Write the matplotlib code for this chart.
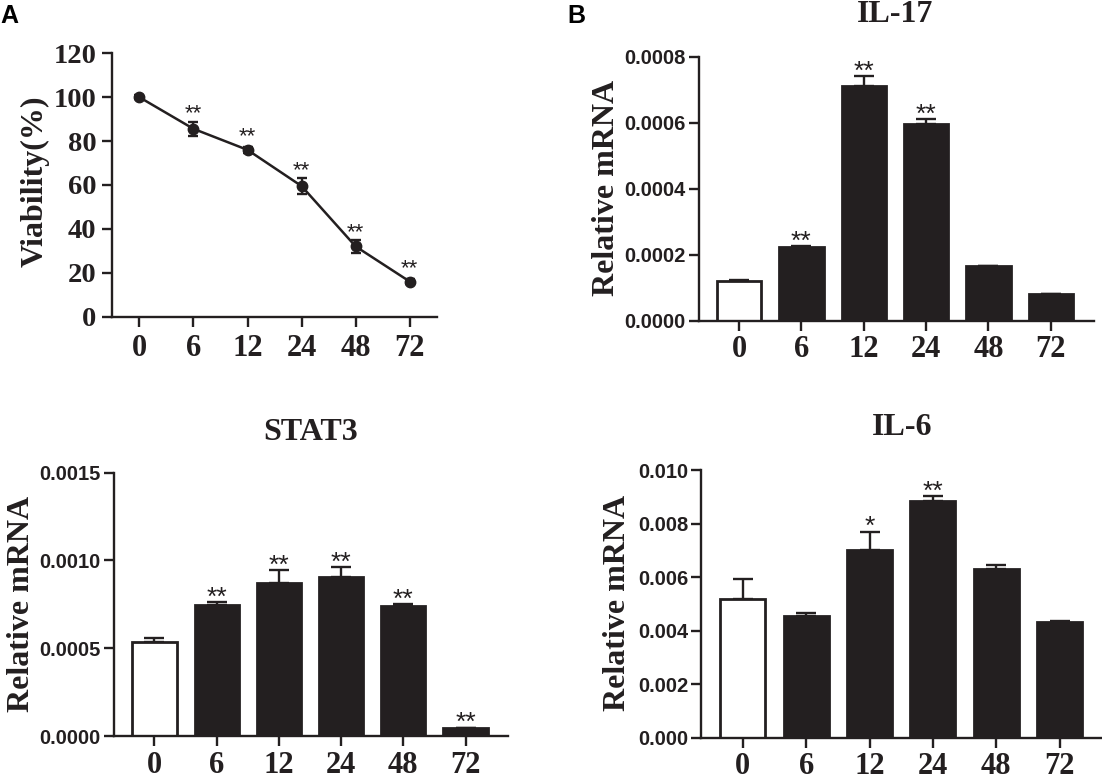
import matplotlib
matplotlib.use('Agg')
import matplotlib.pyplot as plt
from matplotlib.ticker import FormatStrFormatter

# ---------------- data ----------------
timepoints = ['0', '6', '12', '24', '48', '72']

viability = [100, 85.6, 76.0, 59.5, 32.0, 16.0]
viability_err = [0.8, 3.3, 1.2, 3.5, 3.0, 1.0]
viability_sig = ['', '**', '**', '**', '**', '**']

il17 = [0.000121, 0.000222, 0.000711, 0.000596, 0.000166, 0.000081]
il17_err = [0.000002, 0.000005, 0.000030, 0.000016, 0.000001, 0.0000005]
il17_sig = ['', '**', '**', '**', '', '']

stat3 = [0.000537, 0.000746, 0.000870, 0.000906, 0.000742, 0.000046]
stat3_err = [0.000021, 0.000015, 0.000076, 0.000055, 0.000012, 0.000002]
stat3_sig = ['', '**', '**', '**', '**', '**']

il6 = [0.00517, 0.00456, 0.00702, 0.00885, 0.00629, 0.00432]
il6_err = [0.00075, 0.00011, 0.00068, 0.00018, 0.00016, 0.00005]
il6_sig = ['', '', '*', '**', '', '']

# ---------------- style ----------------
INK = '#231f20'
SERIF = 'Liberation Serif'
SANS = 'Liberation Sans'
W, H = 1102, 778

fig = plt.figure(figsize=(W / 100, H / 100), dpi=100)


def px_axes(x0, x1, ytop, yzero):
    return fig.add_axes([x0 / W, 1 - yzero / H, (x1 - x0) / W, (yzero - ytop) / H])


def style(ax, xlim, ylim, yticks, yfmt, ysans, ysize, xpad, ypad):
    ax.set_xlim(*xlim)
    ax.set_ylim(*ylim)
    for s in ['top', 'right']:
        ax.spines[s].set_visible(False)
    for s in ['left', 'bottom']:
        ax.spines[s].set_linewidth(1.7)
        ax.spines[s].set_color(INK)
    ax.set_yticks(yticks)
    ax.yaxis.set_major_formatter(FormatStrFormatter(yfmt))
    ax.set_xticks(range(len(timepoints)))
    ax.set_xticklabels(timepoints)
    ax.tick_params(axis='both', width=1.7, length=7.5, color=INK)
    ax.tick_params(axis='x', pad=xpad)
    ax.tick_params(axis='y', pad=ypad)
    for lab in ax.get_xticklabels():
        lab.set_fontfamily(SERIF)
        lab.set_fontweight('bold')
        lab.set_fontsize(22)
        lab.set_color(INK)
    for lab in ax.get_yticklabels():
        lab.set_fontfamily(SANS if ysans else SERIF)
        lab.set_fontweight('bold')
        lab.set_fontsize(ysize)
        lab.set_color(INK)


def bar_panel(ax, vals, errs, sigs):
    x = list(range(len(vals)))
    colors = ['white'] + [INK] * (len(vals) - 1)
    ax.errorbar(x, vals, yerr=[[0] * len(vals), errs], fmt='none', ecolor=INK,
                elinewidth=1.7, capsize=7, capthick=1.7, zorder=1)
    ax.bar(x, vals, width=0.71, color=colors, edgecolor=INK, linewidth=2.0, zorder=2)
    for xi, v, e, s in zip(x, vals, errs, sigs):
        if s:
            ax.annotate(s, (xi, v + e), xytext=(0, -2), textcoords='offset points',
                        ha='center', va='baseline', fontsize=19, fontfamily=SANS,
                        color=INK)


# ---------------- Panel A ----------------
axA = px_axes(112.3, 436.8, 53.3, 316.7)
xs = list(range(len(viability)))
axA.errorbar(xs, viability, yerr=viability_err, fmt='-o', color=INK, lw=1.8,
             ms=7.5, capsize=3.5, elinewidth=1.7, capthick=1.7, clip_on=False)
style(axA, (-0.5, 5.5), (0, 120), [0, 20, 40, 60, 80, 100, 120], '%d', False, 20.5, 5, 4)
pts_per_unit = (316.7 - 53.3) * 0.72 / 120
for xi, v, e, s in zip(xs, viability, viability_err, viability_sig):
    if s:
        off = max(e * pts_per_unit, 3.8) + 1.5
        axA.annotate(s, (xi, v), xytext=(0, off), textcoords='offset points',
                     ha='center', va='baseline', fontsize=16, fontfamily=SANS, color=INK)
fig.text(35 / W, 1 - 181 / H, 'Viability(%)', rotation=90, ha='center', va='center',
         fontfamily=SERIF, fontweight='bold', fontsize=23, color=INK)

# ---------------- IL-17 ----------------
axB = px_axes(698.5, 1093.8, 56.7, 320.7)
bar_panel(axB, il17, il17_err, il17_sig)
style(axB, (-0.65, 5.69), (0, 0.0008), [0, 0.0002, 0.0004, 0.0006, 0.0008], '%.4f',
      True, 14.5, 3, 2)
fig.text(606 / W, 1 - 187.5 / H, 'Relative mRNA', rotation=90, ha='center', va='center',
         fontfamily=SERIF, fontweight='bold', fontsize=23, color=INK)
fig.text(895 / W, 1 - 22 / H, 'IL-17', ha='center', va='baseline',
         fontfamily=SERIF, fontweight='bold', fontsize=23, color=INK)

# ---------------- STAT3 ----------------
axC = px_axes(114, 507.9, 472.7, 736)
bar_panel(axC, stat3, stat3_err, stat3_sig)
style(axC, (-0.65, 5.68), (0, 0.0015), [0, 0.0005, 0.0010, 0.0015], '%.4f',
      True, 14.5, 3, 2)
fig.text(22 / W, 1 - 604 / H, 'Relative mRNA', rotation=90, ha='center', va='center',
         fontfamily=SERIF, fontweight='bold', fontsize=23, color=INK)
fig.text(310.4 / W, 1 - 440 / H, 'STAT3', ha='center', va='baseline',
         fontfamily=SERIF, fontweight='bold', fontsize=23, color=INK)

# ---------------- IL-6 ----------------
axD = px_axes(701.4, 1102, 470, 737.7)
bar_panel(axD, il6, il6_err, il6_sig)
style(axD, (-0.655, 5.67), (0, 0.010), [0, 0.002, 0.004, 0.006, 0.008, 0.010], '%.3f',
      True, 14.5, 3, 2)
fig.text(617.7 / W, 1 - 603.3 / H, 'Relative mRNA', rotation=90, ha='center', va='center',
         fontfamily=SERIF, fontweight='bold', fontsize=23, color=INK)
fig.text(902 / W, 1 - 435 / H, 'IL-6', ha='center', va='baseline',
         fontfamily=SERIF, fontweight='bold', fontsize=23, color=INK)

# ---------------- panel letters ----------------
fig.text(0 / W, 1 - 23 / H, 'A', ha='left', va='baseline', fontfamily=SANS,
         fontweight='bold', fontsize=18, color='black')
fig.text(567 / W, 1 - 23 / H, 'B', ha='left', va='baseline', fontfamily=SANS,
         fontweight='bold', fontsize=18, color='black')

fig.savefig('out.png', dpi=100, facecolor='white')
